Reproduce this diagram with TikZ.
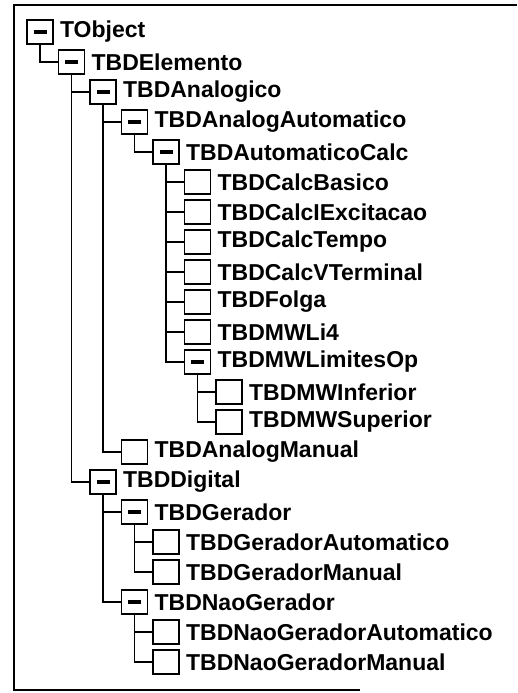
\documentclass[tikz,border=0pt]{standalone}
\usepackage{fontspec}
\setmainfont{Liberation Sans}
\usepackage{tikz}
\usetikzlibrary{positioning}

\tikzset{
    pasta/.style={draw, line width=1.8pt, minimum width=26pt, minimum height=24pt, inner sep=0pt},
    aberta/.style={pasta, path picture={
        \fill ([xshift=-6.5pt,yshift=-2.2pt]path picture bounding box.center) rectangle ++(13pt,4.4pt);}},
    rotulo/.style={anchor=west, inner sep=0pt, font=\fontsize{23}{26}\selectfont\bfseries},
    ramo/.style={line width=1.6pt}
}

\begin{document}
\begin{tikzpicture}[x=1pt, y=-1pt]
    \useasboundingbox (0,0) rectangle (517,693);
    % moldura da janela
    \draw[line width=1.6pt] (517,5) -- (14,5) -- (14,690) -- (360,690);

    % caixas da arvore
    \node[aberta] (obj)      at (40,32)    {};
    \node[aberta] (elem)     at (71.5,62)  {};
    \node[aberta] (analog)   at (103,92)   {};
    \node[aberta] (anauto)   at (134.5,122) {};
    \node[aberta] (autocalc) at (166,152)  {};
    \node[pasta]  (basico)   at (197.5,182) {};
    \node[pasta]  (iexc)     at (197.5,212) {};
    \node[pasta]  (tempo)    at (197.5,242) {};
    \node[pasta]  (vterm)    at (197.5,272) {};
    \node[pasta]  (folga)    at (197.5,302) {};
    \node[pasta]  (li4)      at (197.5,332) {};
    \node[aberta] (limites)  at (197.5,362) {};
    \node[pasta]  (inferior) at (229,392)  {};
    \node[pasta]  (superior) at (229,422)  {};
    \node[pasta]  (anmanual) at (134.5,452) {};
    \node[aberta] (digital)  at (103,482)  {};
    \node[aberta] (gerador)  at (134.5,512) {};
    \node[pasta]  (gerauto)  at (166,542)  {};
    \node[pasta]  (german)   at (166,572)  {};
    \node[aberta] (naoger)   at (134.5,602) {};
    \node[pasta]  (naoauto)  at (166,632)  {};
    \node[pasta]  (naoman)   at (166,662)  {};

    % nomes das classes
    \node[rotulo, right=6pt of obj]      {TObject};
    \node[rotulo, right=6pt of elem]     {TBDElemento};
    \node[rotulo, right=6pt of analog]   {TBDAnalogico};
    \node[rotulo, right=6pt of anauto]   {TBDAnalogAutomatico};
    \node[rotulo, right=6pt of autocalc] {TBDAutomaticoCalc};
    \node[rotulo, right=6pt of basico]   {TBDCalcBasico};
    \node[rotulo, right=6pt of iexc]     {TBDCalcIExcitacao};
    \node[rotulo, right=6pt of tempo]    {TBDCalcTempo};
    \node[rotulo, right=6pt of vterm]    {TBDCalcVTerminal};
    \node[rotulo, right=6pt of folga]    {TBDFolga};
    \node[rotulo, right=6pt of li4]      {TBDMWLi4};
    \node[rotulo, right=6pt of limites]  {TBDMWLimitesOp};
    \node[rotulo, right=6pt of inferior] {TBDMWInferior};
    \node[rotulo, right=6pt of superior] {TBDMWSuperior};
    \node[rotulo, right=6pt of anmanual] {TBDAnalogManual};
    \node[rotulo, right=6pt of digital]  {TBDDigital};
    \node[rotulo, right=6pt of gerador]  {TBDGerador};
    \node[rotulo, right=6pt of gerauto]  {TBDGeradorAutomatico};
    \node[rotulo, right=6pt of german]   {TBDGeradorManual};
    \node[rotulo, right=6pt of naoger]   {TBDNaoGerador};
    \node[rotulo, right=6pt of naoauto]  {TBDNaoGeradorAutomatico};
    \node[rotulo, right=6pt of naoman]   {TBDNaoGeradorManual};

    % ramos
    \draw[ramo] (obj.south) |- (elem.west);
    \draw[ramo] (elem.south) |- (analog.west);
    \draw[ramo] (elem.south) |- (digital.west);
    \draw[ramo] (analog.south) |- (anauto.west);
    \draw[ramo] (analog.south) |- (anmanual.west);
    \draw[ramo] (anauto.south) |- (autocalc.west);
    \draw[ramo] (autocalc.south) |- (basico.west);
    \draw[ramo] (autocalc.south) |- (iexc.west);
    \draw[ramo] (autocalc.south) |- (tempo.west);
    \draw[ramo] (autocalc.south) |- (vterm.west);
    \draw[ramo] (autocalc.south) |- (folga.west);
    \draw[ramo] (autocalc.south) |- (li4.west);
    \draw[ramo] (autocalc.south) |- (limites.west);
    \draw[ramo] (limites.south) |- (inferior.west);
    \draw[ramo] (limites.south) |- (superior.west);
    \draw[ramo] (digital.south) |- (gerador.west);
    \draw[ramo] (digital.south) |- (naoger.west);
    \draw[ramo] (gerador.south) |- (gerauto.west);
    \draw[ramo] (gerador.south) |- (german.west);
    \draw[ramo] (naoger.south) |- (naoauto.west);
    \draw[ramo] (naoger.south) |- (naoman.west);
\end{tikzpicture}
\end{document}
